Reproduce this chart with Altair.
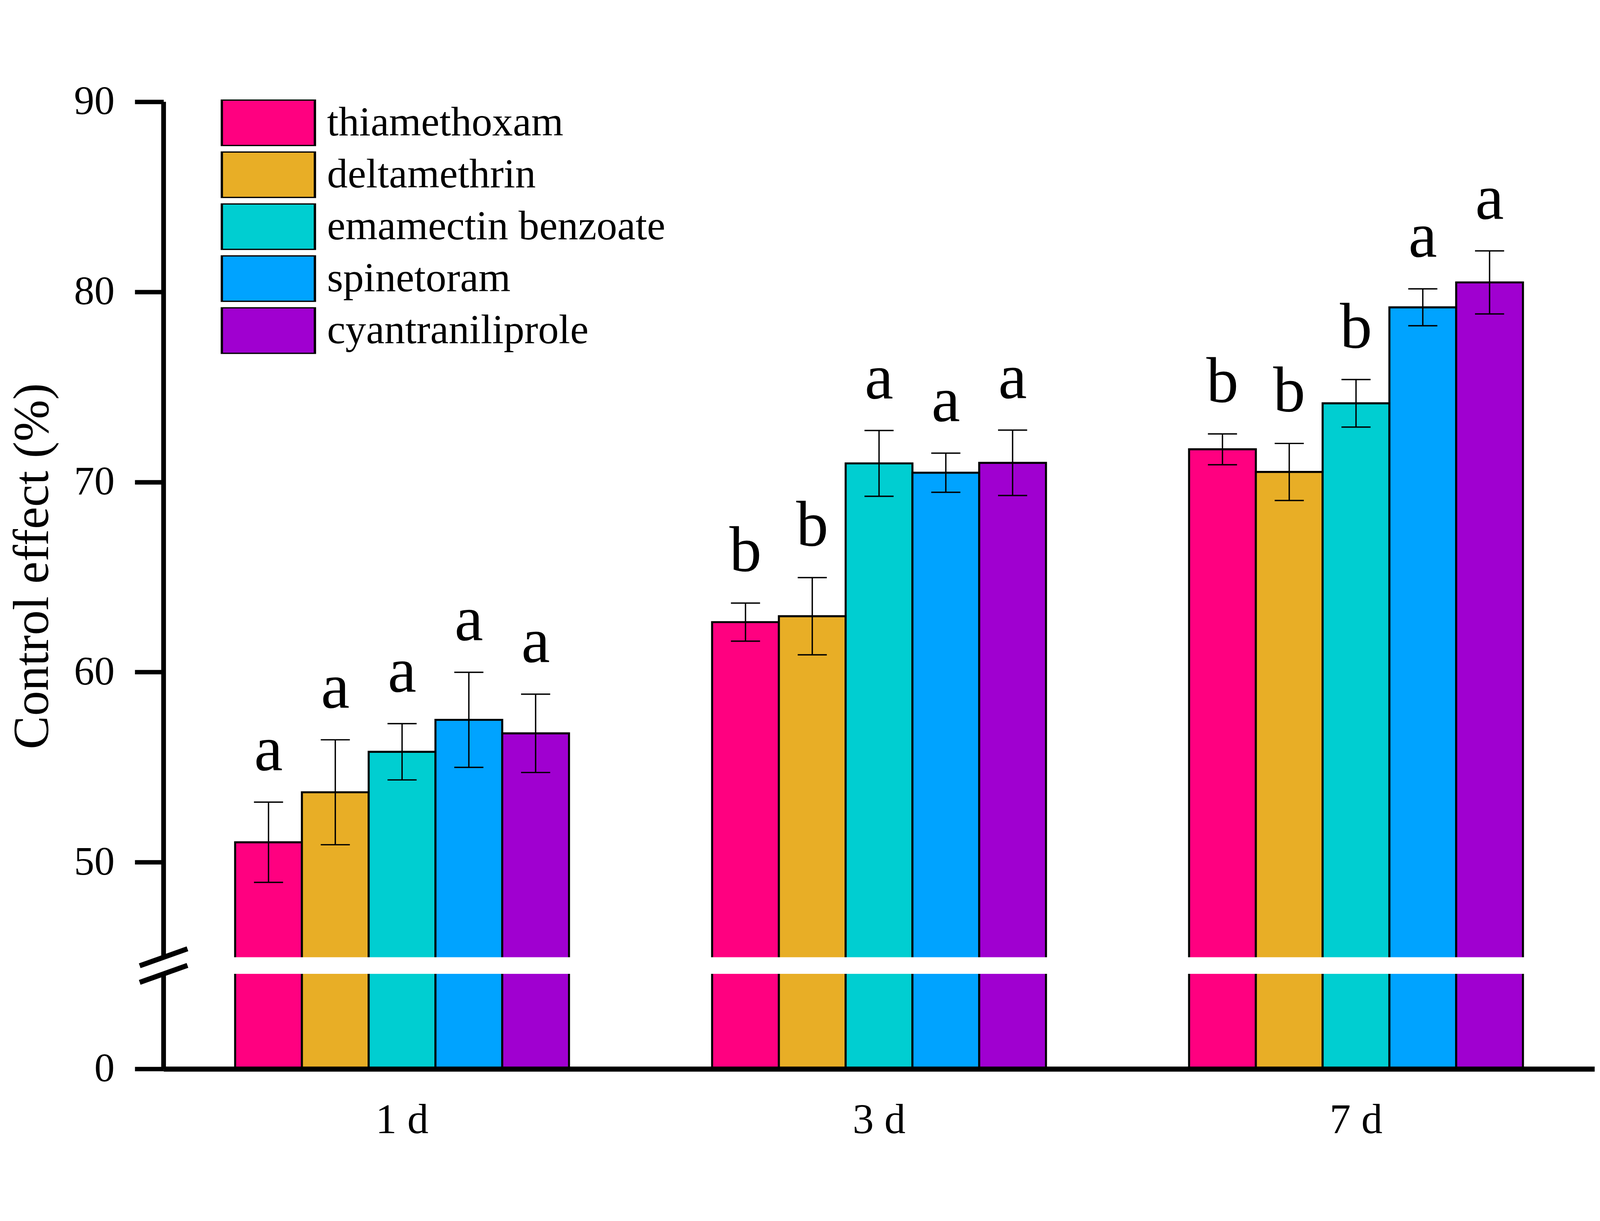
import altair as alt
import pandas as pd

# ---------------- data ----------------
days = ["1 d", "3 d", "7 d"]
treatments = ["thiamethoxam", "deltamethrin", "emamectin benzoate", "spinetoram", "cyantraniliprole"]
bar_colors = ["#FF0080", "#E8AE26", "#00CED1", "#00A3FF", "#A000D0"]

thiamethoxam_mean = [51.05, 62.63, 71.72]
deltamethrin_mean = [53.68, 62.94, 70.53]
emamectin_mean = [55.81, 70.98, 74.14]
spinetoram_mean = [57.49, 70.49, 79.19]
cyantraniliprole_mean = [56.78, 71.01, 80.50]

thiamethoxam_se = [2.11, 1.00, 0.81]
deltamethrin_se = [2.76, 2.03, 1.50]
emamectin_se = [1.48, 1.73, 1.25]
spinetoram_se = [2.50, 1.03, 0.97]
cyantraniliprole_se = [2.06, 1.72, 1.66]

thiamethoxam_sig = ["a", "b", "b"]
deltamethrin_sig = ["a", "b", "b"]
emamectin_sig = ["a", "a", "b"]
spinetoram_sig = ["a", "a", "a"]
cyantraniliprole_sig = ["a", "a", "a"]

means = [thiamethoxam_mean, deltamethrin_mean, emamectin_mean, spinetoram_mean, cyantraniliprole_mean]
ses = [thiamethoxam_se, deltamethrin_se, emamectin_se, spinetoram_se, cyantraniliprole_se]
sigs = [thiamethoxam_sig, deltamethrin_sig, emamectin_sig, spinetoram_sig, cyantraniliprole_sig]

rows = []
for tr, m, s, g in zip(treatments, means, ses, sigs):
    for d, mv, sv, gv in zip(days, m, s, g):
        rows.append({"day": d, "treatment": tr, "mean": mv, "se": sv, "sig": gv})
df = pd.DataFrame(rows)

# ---------------- broken axis definition ----------------
LOW_TOP = 5.0        # lower segment: 0 .. 5
HIGH_BOTTOM = 45.0   # upper segment: 45 .. 90
Y_TOP = 90.0
GAP = 0.873          # visual gap between the segments (data units)
SHIFT = HIGH_BOTTOM - LOW_TOP - GAP
T_MAX = Y_TOP - SHIFT


def broken(field):
    return f"datum.{field} <= {LOW_TOP} ? datum.{field} : datum.{field} - {SHIFT}"


W, H = 4227, 2858
FONT = "Liberation Serif"

yscale = alt.Scale(domain=[0, T_MAX], nice=False, zero=False)
tick_values = [0.0] + [round(v - SHIFT, 4) for v in [50, 60, 70, 80, 90]]

yaxis = alt.Axis(
    values=tick_values,
    labelExpr=f"datum.value < 1 ? '0' : format(datum.value + {SHIFT}, '.0f')",
    domain=False, grid=False, ticks=True, tickSize=85, tickWidth=13, tickColor="black",
    labelFont=FONT, labelFontSize=120, labelColor="black", labelPadding=60,
    title="Control effect (%)", titleFont=FONT, titleFontSize=148, titleFontWeight="normal",
    titleColor="black", titleAngle=270, titleX=-342, titleY=1372,
    titleBaseline="alphabetic", titleAlign="center",
)

xaxis = alt.Axis(
    title="", domain=True, domainColor="black", domainWidth=15, ticks=False, tickSize=0,
    labelAngle=0, labelFont=FONT, labelFontSize=125, labelColor="black", labelPadding=189,
    labelBaseline="alphabetic", zindex=1, grid=False,
)

xscale = alt.Scale(paddingInner=0.3, paddingOuter=0.15)
xoff = alt.XOffset("treatment:N", sort=treatments, scale=alt.Scale(paddingInner=0, paddingOuter=0))


def X():
    return alt.X("day:N", sort=days, scale=xscale, axis=xaxis)


def Y(field):
    return alt.Y(field, type="quantitative", scale=yscale, axis=yaxis)


legend = alt.Legend(
    title=None, orient="none", legendX=168.5, legendY=-7, direction="vertical",
    symbolType="M-1,-0.5H1V0.5H-1Z", symbolSize=75625, symbolStrokeWidth=7,
    symbolStrokeColor="black", symbolOpacity=1,
    clipHeight=138, rowPadding=15.5, labelOffset=32.5,
    labelFont=FONT, labelFontSize=122, labelColor="black", labelLimit=3000, padding=0,
)

base = alt.Chart(df).transform_calculate(
    lo="datum.mean - datum.se", hi="datum.mean + datum.se"
).transform_calculate(
    t_mean=broken("mean"), t_lo=broken("lo"), t_hi=broken("hi")
)

bars = base.mark_bar(stroke="black", strokeWidth=6, opacity=1).encode(
    x=X(), xOffset=xoff,
    y=Y("t_mean"),
    color=alt.Color("treatment:N", sort=treatments,
                    scale=alt.Scale(domain=treatments, range=bar_colors), legend=legend),
)

gap_df = pd.DataFrame({"lo": [LOW_TOP], "hi": [LOW_TOP + GAP]})
gap = alt.Chart(gap_df).mark_rect(color="white", opacity=1).encode(
    y=Y("lo"), y2="hi:Q",
)

err = base.mark_rule(color="black", strokeWidth=4, opacity=1).encode(
    x=X(), xOffset=xoff,
    y=Y("t_lo"), y2="t_hi:Q",
)
cap_lo = base.mark_tick(color="black", thickness=4, size=86, orient="horizontal", opacity=1).encode(
    x=X(), xOffset=xoff, y=Y("t_lo"),
)
cap_hi = base.mark_tick(color="black", thickness=4, size=86, orient="horizontal", opacity=1).encode(
    x=X(), xOffset=xoff, y=Y("t_hi"),
)

letters = base.mark_text(font=FONT, fontSize=190, color="black", baseline="alphabetic",
                         align="center", dy=-95).encode(
    x=X(), xOffset=xoff,
    y=Y("t_hi"), text="sig:N",
)

axis_df = pd.DataFrame({"lo": [0.0, LOW_TOP + GAP], "hi": [LOW_TOP, T_MAX]})
axis_line = alt.Chart(axis_df).mark_rule(color="black", strokeWidth=14, strokeCap="butt").encode(
    x=alt.value(0), y=Y("lo"), y2="hi:Q",
)

HALF = 0.445
brk_df = pd.DataFrame({"lo": [LOW_TOP - HALF, LOW_TOP + GAP - HALF],
                       "hi": [LOW_TOP + HALF, LOW_TOP + GAP + HALF]})
breaks = alt.Chart(brk_df).mark_rule(color="black", strokeWidth=15, strokeCap="butt").encode(
    x=alt.value(-70.5), x2=alt.value(70.5),
    y=Y("lo"), y2="hi:Q",
)

chart = alt.layer(bars, gap, err, cap_lo, cap_hi, letters, axis_line, breaks).properties(
    width=W, height=H,
    autosize=alt.AutoSizeParams(type="none"),
    padding={"left": 474, "top": 53, "right": 7, "bottom": 190},
).configure_view(strokeWidth=0)

chart.save("out.html", embed_options={"renderer": "svg", "actions": False})
